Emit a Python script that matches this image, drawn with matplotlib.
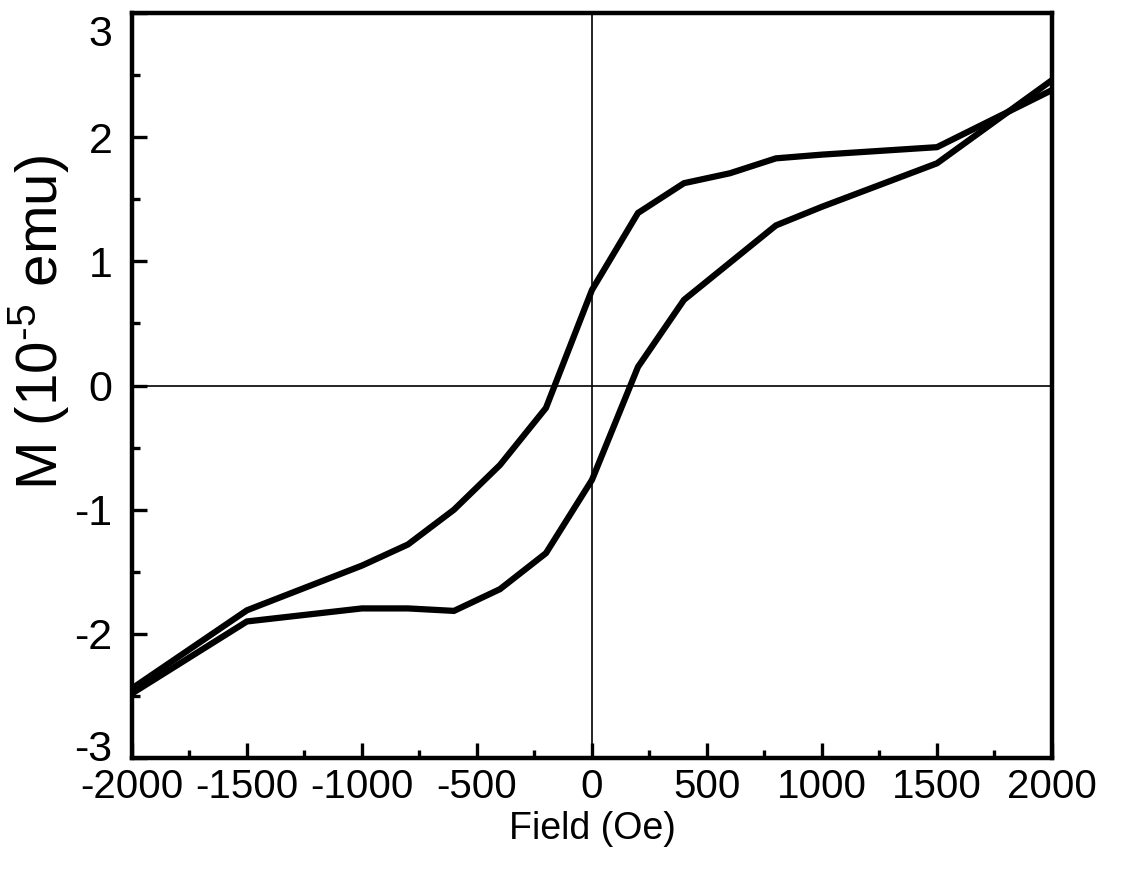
import matplotlib
matplotlib.use("Agg")
from matplotlib import pyplot as plt
from matplotlib.ticker import MultipleLocator
from matplotlib.transforms import ScaledTranslation

plt.rcParams['font.family'] = ['Liberation Sans', 'DejaVu Sans']
plt.rcParams['mathtext.fontset'] = 'custom'
plt.rcParams['mathtext.rm'] = 'Liberation Sans'
plt.rcParams['mathtext.it'] = 'Liberation Sans:italic'
plt.rcParams['mathtext.bf'] = 'Liberation Sans:bold'

# descending branch (field swept from +2000 to -2000)
field_down = [2000, 1500, 1000, 800, 600, 400, 200, 0, -200, -400, -600, -800, -1000, -1500, -2000]
m_down = [2.38, 1.92, 1.86, 1.83, 1.71, 1.63, 1.39, 0.77, -0.18, -0.64, -1.0, -1.28, -1.45, -1.81, -2.44]

# ascending branch (field swept from -2000 to +2000)
field_up = [-2000, -1500, -1000, -800, -600, -400, -200, 0, 200, 400, 600, 800, 1000, 1500, 2000]
m_up = [-2.48, -1.90, -1.795, -1.795, -1.815, -1.64, -1.35, -0.76, 0.15, 0.69, 0.99, 1.29, 1.44, 1.79, 2.46]

xticks = [-2000, -1500, -1000, -500, 0, 500, 1000, 1500, 2000]
yticks = [-3, -2, -1, 0, 1, 2, 3]

fig = plt.figure(figsize=(11.22, 8.72), dpi=100)
ax = fig.add_axes([0.1176, 0.1307, 0.82, 0.8543])

ax.axhline(0, color='black', lw=1.2, zorder=1)
ax.axvline(0, color='black', lw=1.2, zorder=1)

ax.plot(field_down, m_down, color='black', lw=4.5, solid_joinstyle='miter', zorder=3)
ax.plot(field_up, m_up, color='black', lw=4.5, solid_joinstyle='miter', zorder=3)

ax.set_xlim(-2000, 2000)
ax.set_ylim(-3, 3)
ax.set_xticks(xticks)
ax.set_yticks(yticks)
ax.set_xticklabels([str(t) for t in xticks])
ax.set_yticklabels([str(t) for t in yticks])
ax.xaxis.set_minor_locator(MultipleLocator(250))
ax.yaxis.set_minor_locator(MultipleLocator(0.5))

ax.tick_params(which='both', direction='in', top=False, right=False, width=2.4)
ax.tick_params(axis='x', which='major', length=11, labelsize=29, pad=7)
ax.tick_params(axis='y', which='major', length=11, labelsize=31, pad=14)
ax.tick_params(which='minor', length=6)

# the end labels of the y axis sit inside the frame
ylabs = ax.get_yticklabels()
ylabs[-1].set_transform(ylabs[-1].get_transform() + ScaledTranslation(0, -0.17, fig.dpi_scale_trans))
ylabs[0].set_transform(ylabs[0].get_transform() + ScaledTranslation(0, 0.13, fig.dpi_scale_trans))

for s in ax.spines.values():
    s.set_linewidth(3.2)

ax.set_xlabel('Field (Oe)', fontsize=27, labelpad=4)
ax.set_ylabel(r'M (10$^{\text{-5}}$ emu)', fontsize=42)
ax.yaxis.set_label_coords(-0.066, 0.585)

fig.savefig('out.png', dpi=100)
